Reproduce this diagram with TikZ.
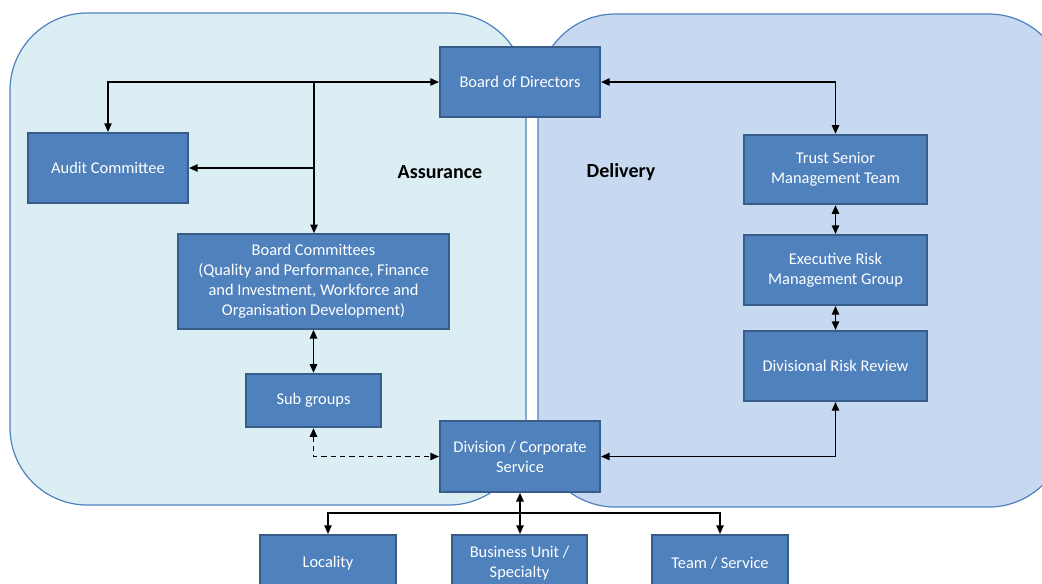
\documentclass[tikz,border=0pt]{standalone}
\usepackage{fontspec}
\setmainfont{Carlito}
\usetikzlibrary{arrows.meta}
\definecolor{assfill}{RGB}{218,238,243}
\definecolor{delfill}{RGB}{198,217,241}
\definecolor{regborder}{RGB}{79,129,189}
\definecolor{boxfill}{RGB}{79,129,189}
\definecolor{boxborder}{RGB}{56,93,138}
\tikzset{
  region/.style={draw=regborder, line width=0.9pt, rounded corners=58pt},
  box/.style={draw=boxborder, fill=boxfill, line width=1.5pt, text=white, align=center,
    font=\fontsize{12.3}{15}\selectfont, inner sep=2pt},
  conn/.style={line width=1.1pt, >={Triangle[length=6.5pt,width=5.5pt]}},
  lbl/.style={font=\fontsize{15}{18}\selectfont\bfseries, text=black}
}
\begin{document}
\begin{tikzpicture}[x=0.75pt,y=-0.75pt]
\useasboundingbox (0,0) rectangle (1042,583);
\clip (0,0) rectangle (1042,583);
\fill[white] (0,0) rectangle (1042,583);
% regions
\draw[region, fill=assfill] (10,13) rectangle (526,505);
\draw[region, fill=delfill] (538,14) rectangle (1066,507);
% labels
\node[lbl] (ass) at (440,172) {Assurance};
\node[lbl] (del) at (621,172) {Delivery};
% boxes
\node[box, minimum width=120pt, minimum height=52.5pt] (bod) at (520,82) {Board of Directors};
\node[box, minimum width=120pt, minimum height=52.5pt] (aud) at (108,168) {Audit Committee};
\node[box, minimum width=137pt, minimum height=52pt] (tsmt) at (835.5,169.5) {Trust Senior\\Management Team};
\node[box, minimum width=137pt, minimum height=52.5pt] (ermg) at (835.5,270) {Executive Risk\\Management Group};
\node[box, minimum width=137pt, minimum height=52.5pt] (drr) at (835.5,366) {Divisional Risk Review};
\node[box, minimum width=203pt, minimum height=71pt] (bc) at (313.5,281.5) {Board Committees\\(Quality and Performance, Finance\\and Investment, Workforce and\\Organisation Development)};
\node[box, minimum width=101pt, minimum height=40pt] (sub) at (313.5,400.5) {Sub groups};
\node[box, minimum width=120pt, minimum height=53pt] (div) at (520,456.5) {Division / Corporate\\Service};
\node[box, minimum width=102pt, minimum height=42pt] (loc) at (328,563) {Locality};
\node[box, minimum width=101pt, minimum height=42pt] (bu) at (519.5,563) {Business Unit /\\Specialty};
\node[box, minimum width=102pt, minimum height=42pt] (team) at (720,563) {Team / Service};
% junctions
\coordinate (j1) at (314,82);
\coordinate (j2) at (314,168);
\coordinate (j3) at (520,513);
% connectors
\draw[conn,<->] (bod.west) -| (aud.north);
\draw[conn,->] (j1) -- (j1 |- bc.north);
\draw[conn,->] (j2) -- (aud.east);
\draw[conn,<->] (bod.east) -| (tsmt.north);
\draw[conn,<->] (tsmt.south) -- (ermg.north);
\draw[conn,<->] (ermg.south) -- (drr.north);
\draw[conn,<->] (drr.south) |- (div.east);
\draw[conn,<->] (bc.south) -- (sub.north);
\draw[conn,<->,dash pattern=on 4pt off 3pt] (sub.south) |- (div.west);
\draw[conn,<->] (div.south) -- (div.south |- bu.north);
\draw[conn,->] (j3) -| (loc.north);
\draw[conn,->] (j3) -| (team.north);
\end{tikzpicture}
\end{document}
